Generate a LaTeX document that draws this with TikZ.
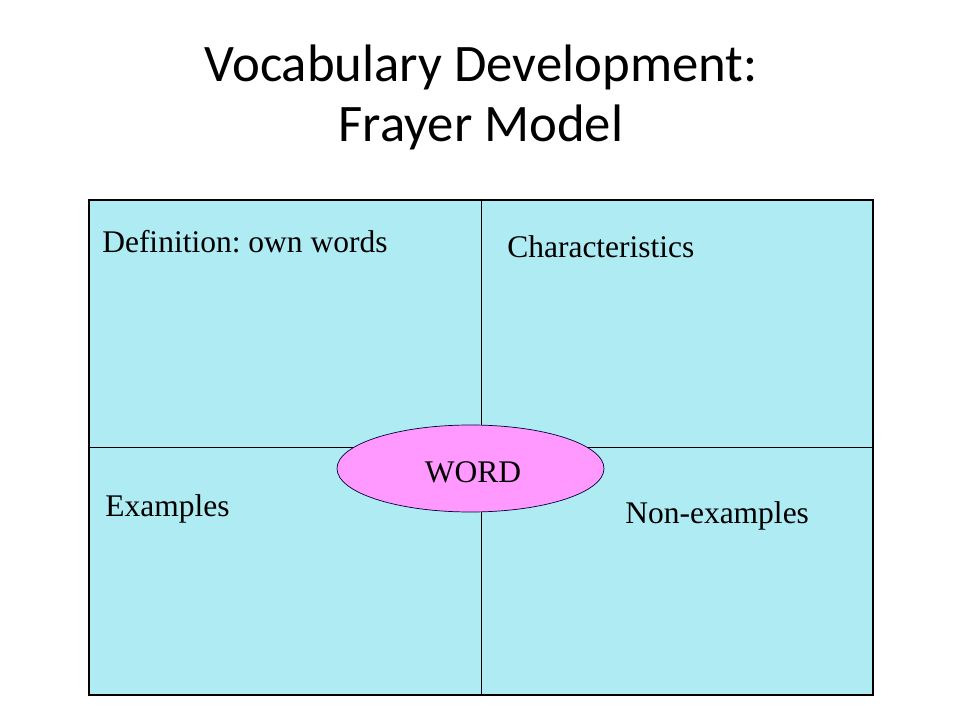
\documentclass[tikz,border=0pt]{standalone}
\usepackage{fontspec}
\setmainfont{Liberation Serif}
\newfontfamily\titlefont{Carlito}
\usetikzlibrary{shapes.geometric}
\definecolor{boxcyan}{RGB}{174,235,243}
\definecolor{wordpink}{RGB}{255,153,255}
\tikzset{
  cornerlabel/.style={anchor=base west, inner sep=0pt, font=\fontsize{22.4}{25}\selectfont},
  titleline/.style={anchor=base, inner sep=0pt, font=\titlefont\fontsize{37.5}{43}\selectfont}
}
\begin{document}
\begin{tikzpicture}[x=0.025cm, y=-0.025cm]
\useasboundingbox (0,0) rectangle (960,720);

% Marking the title
\node [titleline] (title1) at (481,82) {Vocabulary Development:};
\node [titleline] (title2) at (481,142) {Frayer Model};

% Drawing the four boxes
\fill [boxcyan] (89,200) rectangle (873,695);
\coordinate (top) at (481,200);
\coordinate (bottom) at (481,695);
\coordinate (left) at (89,447);
\coordinate (right) at (873,447);
\draw [line width=0.5pt] (top) -- (bottom);
\draw [line width=0.5pt] (left) -- (right);
\draw [line width=1.1pt] (89,200) rectangle (873,695);

% Marking the corner labels
\node [cornerlabel] (definition) at (102,253) {Definition:\ own words};
\node [cornerlabel] (characteristics) at (507,258) {Characteristics};
\node [cornerlabel] (examples) at (105,517) {Examples};
\node [cornerlabel] (nonexamples) at (625,524) {Non-examples};

% Drawing the word ellipse
\node [ellipse, draw=black!80!blue, line width=0.5pt, fill=wordpink,
       minimum width=267*0.025cm, minimum height=87*0.025cm, inner sep=0pt] (word) at (470.5,468.5) {};
\node [cornerlabel, anchor=base] (wordtext) at (473,483) {WORD};
\end{tikzpicture}
\end{document}
